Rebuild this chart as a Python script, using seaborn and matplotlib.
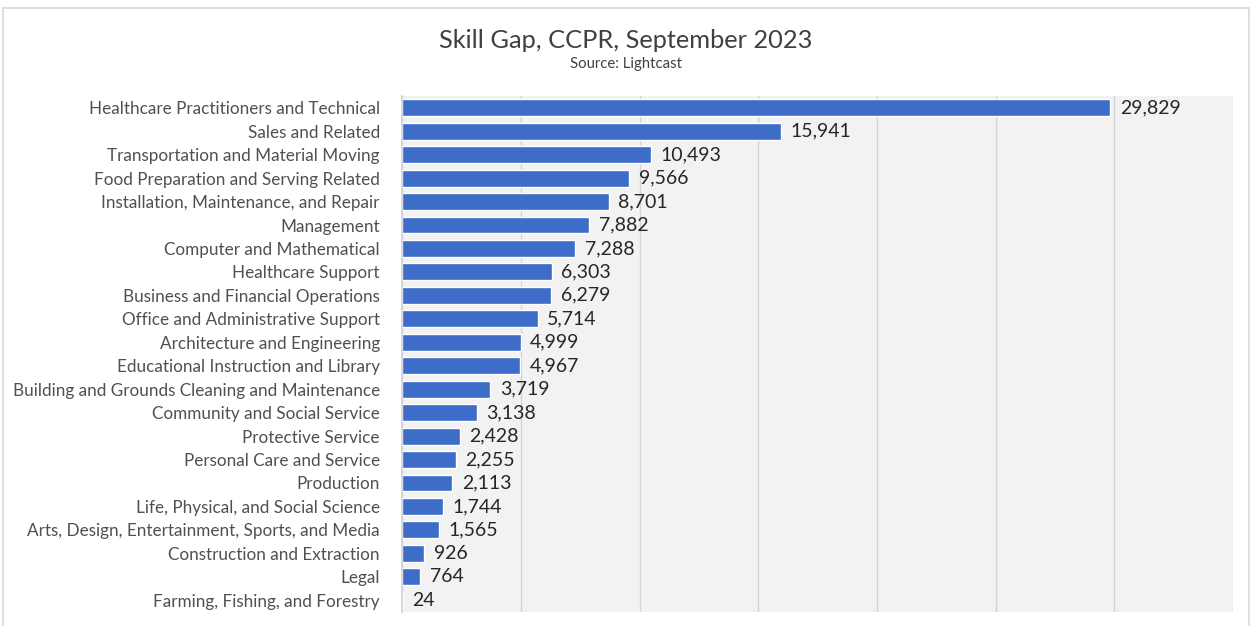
import pandas as pd
import matplotlib.pyplot as plt
import seaborn as sns
from matplotlib.patches import Rectangle

# Skill gap by occupation group (Lightcast, Sept 2023)
occupations = [
    "Healthcare Practitioners and Technical",
    "Sales and Related",
    "Transportation and Material Moving",
    "Food Preparation and Serving Related",
    "Installation, Maintenance, and Repair",
    "Management",
    "Computer and Mathematical",
    "Healthcare Support",
    "Business and Financial Operations",
    "Office and Administrative Support",
    "Architecture and Engineering",
    "Educational Instruction and Library",
    "Building and Grounds Cleaning and Maintenance",
    "Community and Social Service",
    "Protective Service",
    "Personal Care and Service",
    "Production",
    "Life, Physical, and Social Science",
    "Arts, Design, Entertainment, Sports, and Media",
    "Construction and Extraction",
    "Legal",
    "Farming, Fishing, and Forestry",
]
gap = [29829, 15941, 10493, 9566, 8701, 7882, 7288, 6303, 6279, 5714,
       4999, 4967, 3719, 3138, 2428, 2255, 2113, 1744, 1565, 926, 764, 24]

df = pd.DataFrame({"occupation": occupations, "gap": gap})

sns.set_theme(style="white")
plt.rcParams['font.family'] = ['Lato', 'DejaVu Sans']

fig = plt.figure(figsize=(12.52, 6.26), dpi=100)
ax = fig.add_axes([0.3211, 0.0224, 0.6639, 0.8242])
ax.set_facecolor("#F2F2F2")

sns.barplot(data=df, x="gap", y="occupation", color="#3D6CC9",
            saturation=1, width=0.72, ax=ax)

ax.set_xlim(0, 35000)
ax.set_xticks(range(0, 35001, 5000))
ax.xaxis.grid(True, color="#D4D4D4", linewidth=1)
ax.set_axisbelow(True)
ax.tick_params(axis="x", length=0, labelbottom=False)
ax.tick_params(axis="y", length=0, labelsize=12.3, labelcolor="#505050", pad=16)
ax.set_xlabel("")
ax.set_ylabel("")
for side in ["top", "right", "bottom"]:
    ax.spines[side].set_visible(False)
ax.spines["left"].set_color("#D4D4D4")

for i, v in enumerate(gap):
    ax.text(v + 400, i, f"{v:,}", va="center", ha="left",
            fontsize=14, color="#262626")

fig.text(0.5, 0.935, "Skill Gap, CCPR, September 2023", ha="center",
         va="center", fontsize=18.3, color="#404040")
fig.text(0.5, 0.898, "Source: Lightcast", ha="center", va="center",
         fontsize=10.7, color="#404040")

# thin outer frame like the chart-area border
fig.patches.append(Rectangle((0.0025, -0.01), 0.995, 0.997, transform=fig.transFigure,
                             fill=False, edgecolor="#D9D9D9", linewidth=1.2))

fig.savefig("out.png", dpi=100, facecolor="white")
